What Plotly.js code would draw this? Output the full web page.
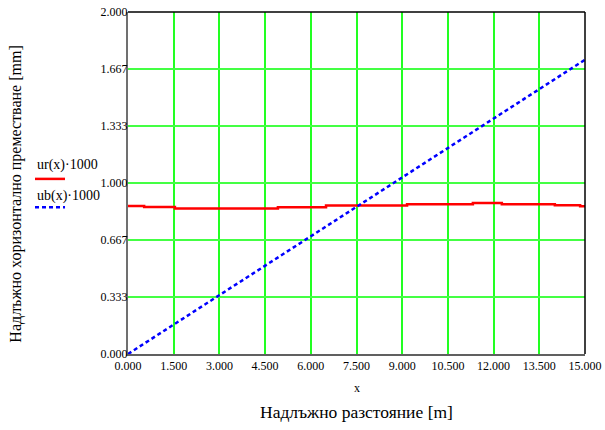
<!DOCTYPE html>
<html>
<head>
<meta charset="utf-8">
<script src="https://cdn.plot.ly/plotly-3.0.1.min.js"></script>
<style>html,body{margin:0;padding:0;background:#fff;}#chart{width:605px;height:430px;}</style>
</head>
<body>
<div id="chart"></div>
<script>
// Data
var urX = [0, 0.53, 1.54, 4.92, 6.5, 9.16, 11.32, 12.27, 14.01, 14.84, 15];
var urY = [0.866, 0.860, 0.851, 0.858, 0.868, 0.876, 0.883, 0.876, 0.870, 0.864, 0.864];
var ubX = [0, 1.5, 3, 4.5, 6, 7.5, 9, 10.5, 12, 13.5, 15];
var ubY = [0, 0.172, 0.344, 0.516, 0.688, 0.860, 1.032, 1.204, 1.376, 1.548, 1.721];
var xTickVals = [0, 1.5, 3, 4.5, 6, 7.5, 9, 10.5, 12, 13.5, 15];
var xTickText = ["0.000","1.500","3.000","4.500","6.000","7.500","9.000","10.500","12.000","13.500","15.000"];
var yTickVals = [0, 1/3, 2/3, 1, 4/3, 5/3, 2];
var yTickText = ["0.000","0.333","0.667","1.000","1.333","1.667","2.000"];
var legendNames = ["ur(x)\u00b71000", "ub(x)\u00b71000"];
var xLabel = "x";
var xTitle = "Надлъжно разстояние [m]";
var yTitle = "Надлъжно хоризонтално преместване [mm]";

var serif = "'Liberation Serif', 'Times New Roman', 'DejaVu Serif', serif";

var traces = [
  {x: urX, y: urY, mode: "lines", line: {color: "#ff0000", width: 2.5, shape: "hv"}, name: legendNames[0], hoverinfo: "skip"},
  {x: ubX, y: ubY, mode: "lines", line: {color: "#0000ff", width: 2.5, dash: "4px,3px"}, name: legendNames[1], hoverinfo: "skip"}
];

var layout = {
  width: 605, height: 430,
  margin: {l: 128, r: 20, t: 11.5, b: 76},
  paper_bgcolor: "#ffffff", plot_bgcolor: "#ffffff",
  showlegend: false,
  font: {family: serif, color: "#000", size: 11},
  xaxis: {
    range: [0, 15], tickvals: xTickVals, ticktext: xTickText,
    showgrid: true, gridcolor: "#22ff22", gridwidth: 2,
    zeroline: false, showline: true, linecolor: "#606060", linewidth: 2,
    ticks: "", tickfont: {family: serif, size: 12, color: "#000"},
    fixedrange: true
  },
  yaxis: {
    range: [0, 2], tickvals: yTickVals, ticktext: yTickText,
    showgrid: true, gridcolor: "#44ff44", gridwidth: 2,
    zeroline: false, showline: true, linecolor: "#707070", linewidth: 2,
    ticks: "", ticklabelstandoff: -4, tickfont: {family: serif, size: 12, color: "#000"},
    fixedrange: true
  },
  shapes: [
    {type: "line", xref: "paper", yref: "paper", x0: 0, x1: 1, y0: 1, y1: 1, line: {color: "#000", width: 1.5}},
    {type: "line", xref: "paper", yref: "paper", x0: 1, x1: 1, y0: 0, y1: 1, line: {color: "#000", width: 1.5}},
    {type: "line", xref: "paper", yref: "paper", x0: -0.2035, x1: -0.1378, y0: 0.512, y1: 0.512, line: {color: "#ff0000", width: 2.5}},
    {type: "line", xref: "paper", yref: "paper", x0: -0.2035, x1: -0.1378, y0: 0.429, y1: 0.429, line: {color: "#0000ff", width: 2.5, dash: "4px,3px"}}
  ],
  annotations: [
    {text: legendNames[0], xref: "paper", yref: "paper", x: -0.2035, y: 0.552, xanchor: "left", yanchor: "middle", showarrow: false, font: {family: serif, size: 14, color: "#000"}},
    {text: legendNames[1], xref: "paper", yref: "paper", x: -0.2035, y: 0.462, xanchor: "left", yanchor: "middle", showarrow: false, font: {family: serif, size: 14, color: "#000"}},
    {text: xLabel, xref: "paper", yref: "paper", x: 0.5, y: -0.098, xanchor: "center", yanchor: "middle", showarrow: false, font: {family: serif, size: 12, color: "#000"}},
    {text: xTitle, xref: "paper", yref: "paper", x: 0.5, y: -0.17, xanchor: "center", yanchor: "middle", showarrow: false, font: {family: serif, size: 17.5, color: "#000"}},
    {text: yTitle, xref: "paper", yref: "paper", x: -0.245, y: 0.466, xanchor: "center", yanchor: "middle", textangle: -90, showarrow: false, font: {family: serif, size: 16, color: "#000"}}
  ]
};

Plotly.newPlot("chart", traces, layout, {displayModeBar: false, staticPlot: true});
</script>
</body>
</html>
